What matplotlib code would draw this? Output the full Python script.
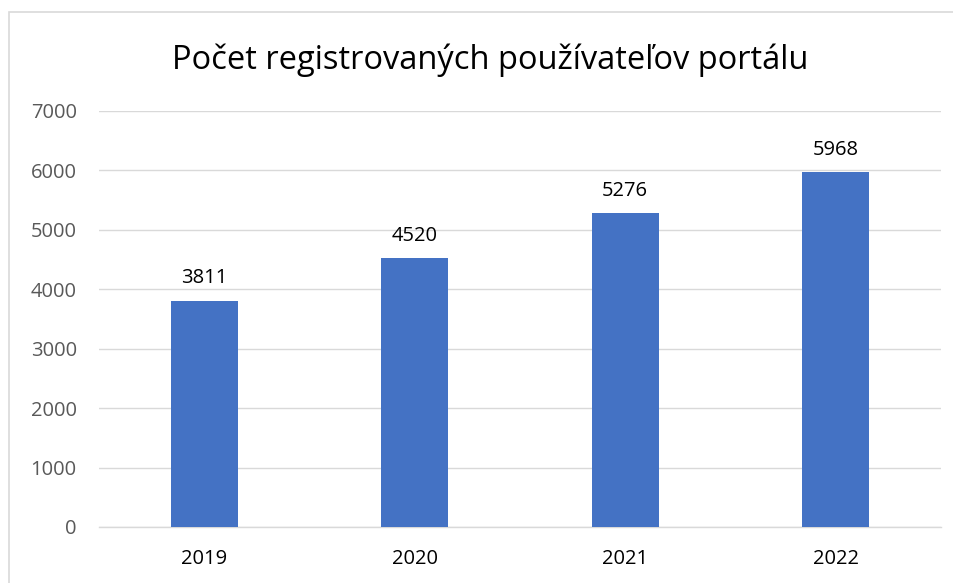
import matplotlib.pyplot as plt
from matplotlib.patches import Rectangle

years = ["2019", "2020", "2021", "2022"]
users = [3811, 4520, 5276, 5968]
y_ticks = [0, 1000, 2000, 3000, 4000, 5000, 6000, 7000]

plt.rcParams['font.family'] = ['Open Sans', 'DejaVu Sans']

W, H = 954, 583
fig = plt.figure(figsize=(W / 100, H / 100), dpi=100)

# chart border (cut off on right and bottom like the screenshot)
fig.patches.append(Rectangle((9.5 / W, -0.1), 1.2, 1.1 - 12.5 / H,
                             transform=fig.transFigure, fill=False,
                             edgecolor='#D9D9D9', linewidth=1.2))

ax = fig.add_axes([99 / W, 1 - 527 / H, (941 - 99) / W, (527 - 111) / H])
x = range(len(years))
bars = ax.bar(x, users, width=0.32, color='#4472C4', zorder=3)

for b, v in zip(bars, users):
    ax.annotate(str(v), (b.get_x() + b.get_width() / 2, v),
                xytext=(0, 9), textcoords='offset points',
                ha='center', va='bottom', fontsize=14.5, color='black')

ax.set_xlim(-0.5, 3.5)
ax.set_ylim(0, 7000)
ax.set_yticks(y_ticks)
ax.set_xticks(list(x))
ax.set_xticklabels(years)
ax.grid(axis='y', color='#D9D9D9', linewidth=1, zorder=0)
for s in ['top', 'right', 'left']:
    ax.spines[s].set_visible(False)
ax.spines['bottom'].set_color('#D9D9D9')
ax.spines['bottom'].set_linewidth(1)
ax.tick_params(length=0)
ax.tick_params(axis='y', labelsize=14.5, labelcolor='#595959', pad=16)
ax.tick_params(axis='x', labelsize=14.5, labelcolor='black', pad=16)

fig.text(490 / W, 1 - 60 / H, "Počet registrovaných používateľov portálu",
         ha='center', va='center', fontsize=23.5, color='black')

fig.savefig("out.png", dpi=100)
